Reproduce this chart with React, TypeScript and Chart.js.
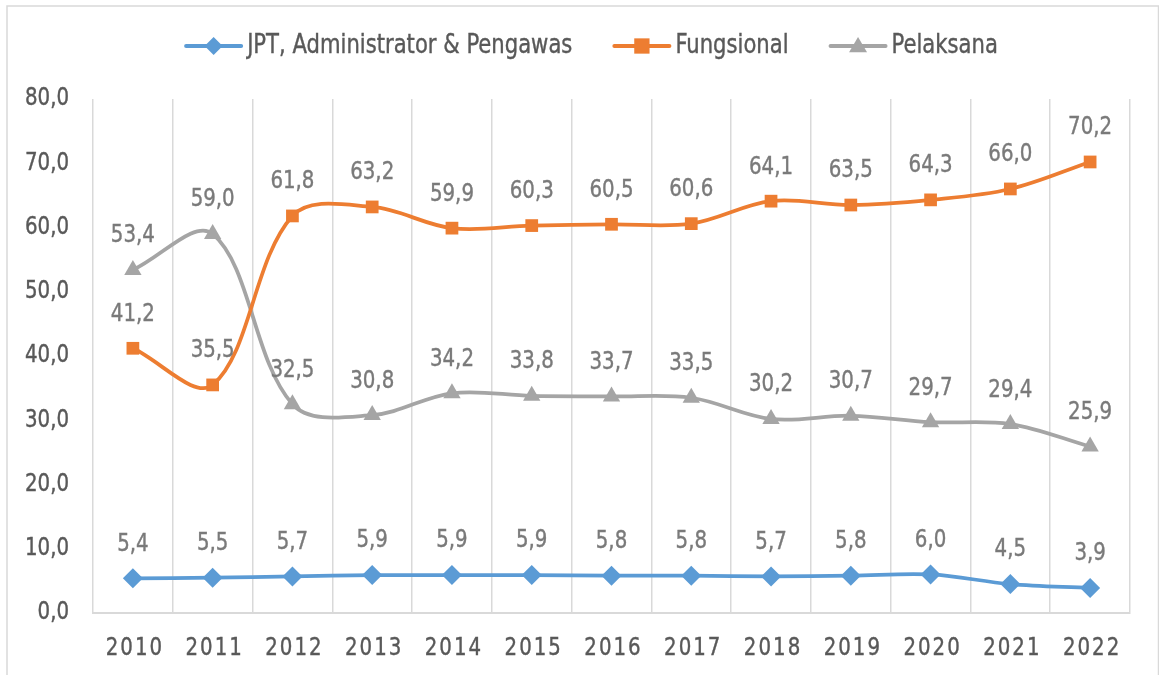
import React, { useEffect, useRef } from "react";
import { Chart, registerables } from "chart.js";

Chart.register(...registerables);

const categories = ["2010", "2011", "2012", "2013", "2014", "2015", "2016", "2017", "2018", "2019", "2020", "2021", "2022"];
const jptValues = [5.4, 5.5, 5.7, 5.9, 5.9, 5.9, 5.8, 5.8, 5.7, 5.8, 6.0, 4.5, 3.9];
const fungsionalValues = [41.2, 35.5, 61.8, 63.2, 59.9, 60.3, 60.5, 60.6, 64.1, 63.5, 64.3, 66.0, 70.2];
const pelaksanaValues = [53.4, 59.0, 32.5, 30.8, 34.2, 33.8, 33.7, 33.5, 30.2, 30.7, 29.7, 29.4, 25.9];
const seriesNames = ["JPT, Administrator & Pengawas", "Fungsional", "Pelaksana"];
const seriesColors = ["#5b9bd5", "#ed7d31", "#a5a5a5"];
const seriesStyles = ["rectRot", "rect", "triangle"];
const yTicks = [0, 10, 20, 30, 40, 50, 60, 70, 80];

const FONT = "'DejaVu Sans Condensed', 'DejaVu Sans', sans-serif";
const STRETCH = 1.12;
const fmt = (v: number) => v.toFixed(1).replace(".", ",");

function drawText(ctx: CanvasRenderingContext2D, text: string, x: number, y: number, color: string) {
  ctx.save();
  ctx.translate(x, y);
  ctx.scale(1, STRETCH);
  ctx.fillStyle = color;
  ctx.strokeStyle = color;
  ctx.lineWidth = 0.35;
  ctx.fillText(text, 0, 0);
  ctx.strokeText(text, 0, 0);
  ctx.restore();
}

function drawMarker(ctx: CanvasRenderingContext2D, style: string, x: number, y: number, r: number) {
  ctx.beginPath();
  if (style === "rectRot") {
    ctx.moveTo(x, y - r);
    ctx.lineTo(x + r, y);
    ctx.lineTo(x, y + r);
    ctx.lineTo(x - r, y);
  } else if (style === "rect") {
    const s = r * 0.85;
    ctx.rect(x - s, y - s, 2 * s, 2 * s);
  } else {
    ctx.moveTo(x, y - r);
    ctx.lineTo(x + r, y + r * 0.7);
    ctx.lineTo(x - r, y + r * 0.7);
  }
  ctx.closePath();
  ctx.fill();
}

const framePlugin = {
  id: "frame",
  beforeDraw(chart: any) {
    const ctx = chart.ctx;
    ctx.save();
    ctx.fillStyle = "#ffffff";
    ctx.fillRect(0, 0, chart.width, chart.height);
    ctx.strokeStyle = "#d9d9d9";
    ctx.lineWidth = 1.5;
    ctx.strokeRect(7, 6, chart.width - 7.5, chart.height + 20);
    ctx.restore();
  },
};

const axisLabelsPlugin = {
  id: "axisLabels",
  afterDraw(chart: any) {
    const ctx = chart.ctx;
    const xs = chart.scales.x;
    const ys = chart.scales.y;
    ctx.save();
    ctx.font = `22px ${FONT}`;
    ctx.textBaseline = "middle";
    ctx.textAlign = "right";
    yTicks.forEach((v) => {
      drawText(ctx, fmt(v), 69, ys.getPixelForValue(v), "#595959");
    });
    (ctx as any).letterSpacing = "2px";
    ctx.textAlign = "center";
    categories.forEach((c, i) => {
      drawText(ctx, c, xs.getPixelForValue(i) + 2, 649, "#595959");
    });
    ctx.restore();
  },
};

const labelsPlugin = {
  id: "valueLabels",
  afterDatasetsDraw(chart: any) {
    const ctx = chart.ctx;
    ctx.save();
    ctx.font = `22px ${FONT}`;
    ctx.textAlign = "center";
    ctx.textBaseline = "middle";
    chart.data.datasets.forEach((ds: any, i: number) => {
      const meta = chart.getDatasetMeta(i);
      meta.data.forEach((pt: any, j: number) => {
        drawText(ctx, fmt(ds.data[j]), pt.x, pt.y - 34, "#7a7a7a");
      });
    });
    ctx.restore();
  },
};

const legendPlugin = {
  id: "customLegend",
  afterDraw(chart: any) {
    const ctx = chart.ctx;
    ctx.save();
    ctx.font = `23.5px ${FONT}`;
    const lineLen = 55;
    const gapText = 6;
    const gapItem = 42;
    const widths = seriesNames.map((n) => lineLen + gapText + ctx.measureText(n).width);
    const total = widths.reduce((a, b) => a + b, 0) + gapItem * (widths.length - 1);
    let x = 592 - total / 2;
    const y = 46;
    seriesNames.forEach((name, i) => {
      ctx.strokeStyle = seriesColors[i];
      ctx.lineWidth = 4;
      ctx.lineCap = "round";
      ctx.beginPath();
      ctx.moveTo(x, y);
      ctx.lineTo(x + lineLen, y);
      ctx.stroke();
      ctx.fillStyle = seriesColors[i];
      drawMarker(ctx, seriesStyles[i], x + lineLen / 2, y, 9);
      ctx.textAlign = "left";
      ctx.textBaseline = "middle";
      drawText(ctx, name, x + lineLen + gapText, y, "#595959");
      x += widths[i] + gapItem;
    });
    ctx.restore();
  },
};

export default function App() {
  const ref = useRef<HTMLCanvasElement>(null);
  useEffect(() => {
    if (!ref.current) return;
    const values = [jptValues, fungsionalValues, pelaksanaValues];
    const chart = new Chart(ref.current, {
      type: "line",
      data: {
        labels: categories,
        datasets: seriesNames.map((name, i) => ({
          label: name,
          data: values[i],
          borderColor: seriesColors[i],
          backgroundColor: seriesColors[i],
          borderWidth: 3.75,
          pointStyle: seriesStyles[i] as any,
          pointRadius: i === 1 ? 9 : 10,
          pointBorderWidth: 0,
          pointBackgroundColor: seriesColors[i],
          tension: 0.35,
          fill: false,
        })),
      },
      options: {
        animation: false,
        responsive: false,
        layout: { padding: { left: 0, right: 29, top: 99, bottom: 0 } },
        plugins: { legend: { display: false }, tooltip: { enabled: false } },
        scales: {
          x: {
            offset: true,
            grid: { offset: true, color: "#d9d9d9", lineWidth: 1.5, drawTicks: false },
            border: { display: true, color: "#d9d9d9", width: 2 },
            ticks: { display: false },
            afterFit(scale: any) {
              scale.height = 62;
            },
          },
          y: {
            min: 0,
            max: 80,
            afterBuildTicks(scale: any) {
              scale.ticks = yTicks.map((v) => ({ value: v }));
            },
            grid: { display: false, drawTicks: false },
            border: { display: false },
            ticks: { display: false },
            afterFit(scale: any) {
              scale.width = 93;
            },
          },
        },
      },
      plugins: [framePlugin, labelsPlugin, axisLabelsPlugin, legendPlugin],
    });
    return () => chart.destroy();
  }, []);
  return (
    <div style={{ position: "fixed", left: 0, top: 0, width: 1159, height: 675 }}>
      <canvas ref={ref} width={1159} height={675} style={{ display: "block" }} />
    </div>
  );
}
